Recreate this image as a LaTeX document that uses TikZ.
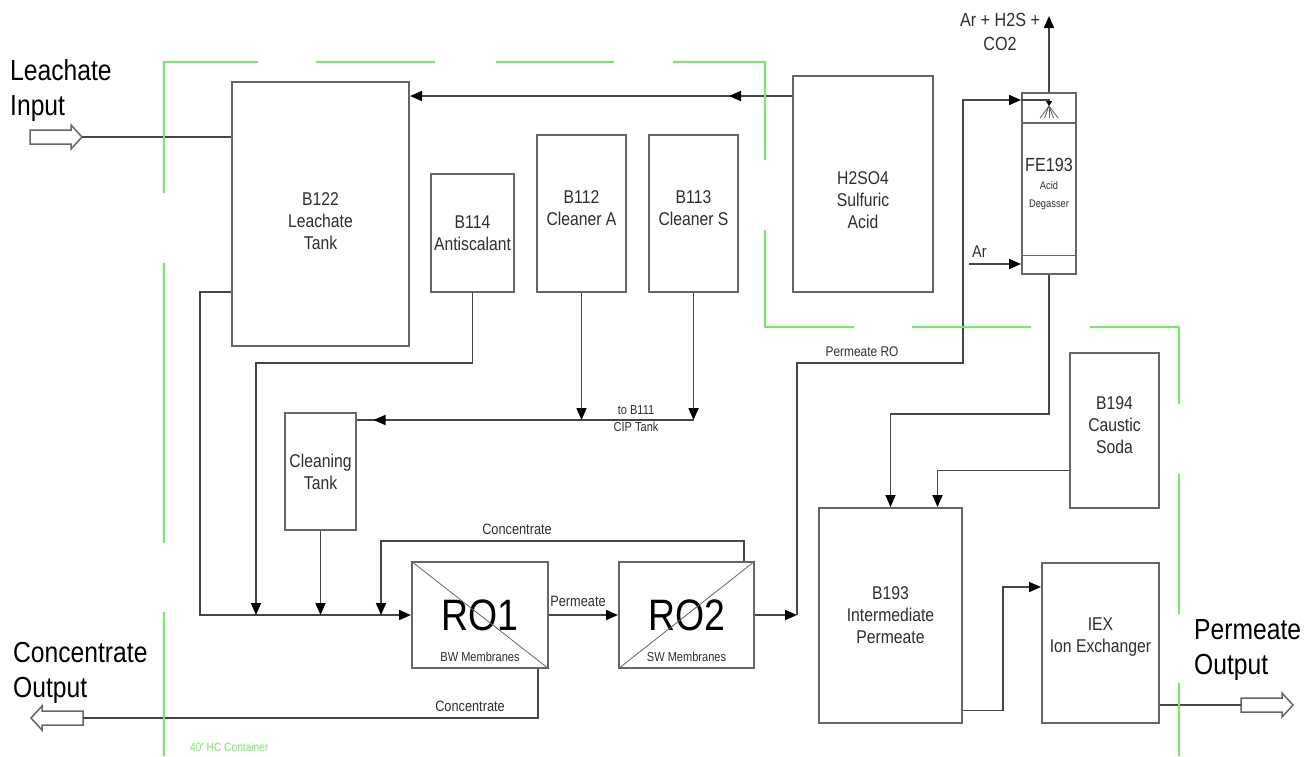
\documentclass[tikz,border=0pt]{standalone}
\usepackage{fontspec}
\setmainfont{Liberation Sans}[FakeStretch=0.85]
\usetikzlibrary{arrows.meta, positioning, calc, decorations.markings}
\definecolor{boxGray}{HTML}{666666}
\definecolor{pipeGray}{HTML}{454545}
\definecolor{txtGray}{HTML}{2E2E2E}
\definecolor{fenceGreen}{HTML}{6CF05C}

\begin{document}
\begin{tikzpicture}[x=1pt, y=-1pt,
    box/.style={draw=boxGray, line width=2pt, fill=white, inner sep=0pt, align=center,
      text=txtGray, font=\fontsize{18.5}{22}\selectfont},
    boxtxt/.style={inner sep=0pt, align=center, text=txtGray, font=\fontsize{18.5}{22}\selectfont},
    robox/.style={box, minimum height=106pt, text=black, font=\fontsize{44}{44}\selectfont},
    pipe/.style={draw=pipeGray, line width=1.7pt},
    flow/.style={pipe, -{Triangle[length=12pt, width=10pt, color=black]}},
    midtip/.style={postaction={decorate}, decoration={markings,
      mark=at position #1 with {\arrow{Triangle[length=12pt, width=10pt, color=black]}}}},
    lbl/.style={text=txtGray, inner sep=0pt, font=\fontsize{14}{17}\selectfont, align=center},
    biglbl/.style={text=black, inner sep=0pt, font=\fontsize{29}{35}\selectfont, align=left},
    fence/.style={draw=fenceGreen, line width=2pt},
    hollow/.style={draw=boxGray, line width=1.5pt, fill=white}]
  \useasboundingbox (0,0) rectangle (1312,756);
  % tanks
  \node[box, minimum width=177pt, minimum height=264pt] (tank) at (320.5,214) {};
  \node[boxtxt] (tankTxt) at (320.5,221) {B122\\Leachate\\Tank};
  \node[box, minimum width=83pt, minimum height=118pt] (anti) at (472.5,233) {B114\\Antiscalant};
  \node[box, minimum width=89pt, minimum height=157pt] (clA) at (581.5,213.5) {};
  \node[boxtxt] (clATxt) at (581.5,208) {B112\\Cleaner A};
  \node[box, minimum width=89pt, minimum height=157pt] (clS) at (693.5,213.5) {};
  \node[boxtxt] (clSTxt) at (693.5,208) {B113\\Cleaner S};
  \node[box, minimum width=140pt, minimum height=216pt] (acid) at (863,184) {};
  \node[boxtxt] (acidTxt) at (863,200) {H2SO4\\Sulfuric\\Acid};
  \node[box, minimum width=71pt, minimum height=117pt] (clean) at (320.5,471.5) {Cleaning\\Tank};
  \node[box, minimum width=54pt, minimum height=181pt] (deg) at (1049,183.5) {};
  \node[boxtxt, font=\fontsize{11}{18}\selectfont] (degTxt) at (1049,184)
    {{\fontsize{19}{20}\selectfont FE193}\\Acid\\Degasser};
  \node[box, minimum width=89pt, minimum height=155pt] (soda) at (1114.5,430.5) {};
  \node[boxtxt] (sodaTxt) at (1114.5,425) {B194\\Caustic\\Soda};
  \node[box, minimum width=143pt, minimum height=215pt] (b193) at (890.5,615.5) {B193\\Intermediate\\Permeate};
  \node[box, minimum width=117pt, minimum height=160pt] (iex) at (1100.5,643) {};
  \node[boxtxt] (iexTxt) at (1100.5,637) {IEX\\Ion Exchanger};
  % membranes
  \node[robox, minimum width=136pt] (ro1) at (480,615) {RO1};
  \node[robox, minimum width=135pt] (ro2) at (686.5,615) {RO2};
  \draw[boxGray, line width=0.8pt] (ro1.north west) -- (ro1.south east);
  \draw[boxGray, line width=0.8pt] (ro2.south west) -- (ro2.north east);
  \node[lbl, anchor=base, font=\fontsize{13}{15}\selectfont] (ro1Sub) at (480,661) {BW Membranes};
  \node[lbl, anchor=base, font=\fontsize{13}{15}\selectfont] (ro2Sub) at (686.5,661) {SW Membranes};
  % degasser inside
  \draw[boxGray, line width=2.4pt] ([yshift=-31pt]deg.north west) -- ([yshift=-31pt]deg.north east);
  \draw[boxGray, line width=1pt] ([yshift=20pt]deg.south west) -- ([yshift=20pt]deg.south east);
  \foreach \dx in {-9,-4.5,0,4.5,9}
    \draw[boxGray, line width=0.9pt] (1049,106) -- ++(\dx,12);
  % in and out arrows
  \foreach \x/\y/\d in {30/137/1, 1241/705/1, 83/718/-1}
    \draw[hollow] (\x,\y-7) -- ++(\d*41,0) -- ++(0,-5) -- (\x+\d*52,\y)
      -- (\x+\d*41,\y+12) -- ++(0,-5) -- (\x,\y+7) -- cycle;
  \coordinate (leachIn) at (82,137);
  \coordinate (permOut) at (1241,705);
  \coordinate (concOut) at (83,718);
  % feed lines
  \coordinate (acidOut) at ([yshift=-21pt]acid.north west);
  \coordinate (feedL) at (200,615);
  \coordinate (antiL) at (256,363);
  \coordinate (recyc) at (381,541);
  \draw[pipe] (leachIn) -- (leachIn -| tank.west);
  \draw[flow, midtip=63pt] (acidOut) -- (acidOut -| tank.east);
  \draw[flow] ([yshift=-211pt]tank.north west) -| (feedL) -- (ro1.west);
  \draw[flow] (anti.south) |- (antiL) -- (antiL |- feedL);
  \draw[flow] (clean.south) -- (clean.south |- feedL);
  \draw[flow] ([xshift=-11pt]ro2.north east) |- (recyc) -- (recyc |- feedL);
  \node[lbl, anchor=base, font=\fontsize{15}{17}\selectfont] (recLbl) at (517,534) {Concentrate};
  % CIP
  \coordinate (cip) at (693.5,420);
  \draw[flow] (clA.south) -- (clA.south |- cip);
  \draw[flow] (clS.south) -- (cip);
  \draw[pipe, midtip=320pt] (cip) -- (cip -| clean.east);
  \node[lbl, anchor=north, font=\fontsize{13}{17}\selectfont] (cipLbl) at (636,405.5) {to B111\\CIP Tank};
  % RO chain
  \draw[flow] (ro1) -- (ro2);
  \node[lbl, anchor=base, font=\fontsize{15}{17}\selectfont] (permLbl) at (578,606) {Permeate};
  \draw[pipe] ([xshift=-11pt]ro1.south east) |- (concOut);
  \node[lbl, anchor=base, font=\fontsize{15}{17}\selectfont] (concLbl) at (470,711) {Concentrate};
  \coordinate (permUp) at (797,363);
  \coordinate (permTop) at (963,100);
  \draw[flow] (ro2.east) -- (ro2.east -| permUp);
  \draw[flow] (ro2.east -| permUp) -- (permUp) -| (permTop) -- (permTop -| deg.west);
  \draw[pipe, -{Triangle[length=5pt, width=6pt, color=black]}] (permTop -| deg.west) -- (permTop -| deg.center) -- ++(0,6);
  \node[lbl, anchor=base] (roLbl) at (862,356) {Permeate RO};
  % degasser gas
  \coordinate (arIn) at (969,264);
  \coordinate (gasOut) at (1049,16);
  \draw[flow] (arIn) -- (arIn -| deg.west);
  \node[lbl, anchor=base west, font=\fontsize{17}{17}\selectfont] (arLbl) at (972,257) {Ar};
  \draw[flow] (deg.north) -- (gasOut);
  \node[lbl, anchor=north, font=\fontsize{19}{24}\selectfont] (gasLbl) at (1000,13) {Ar + H2S +\\CO2};
  % post treatment
  \draw[flow] (deg.south) -- ++(0,139) -| (b193.north);
  \draw[flow] ([yshift=-40pt]soda.west) -| ([xshift=47pt]b193.north);
  \draw[flow] ([yshift=-95pt]b193.east) -- ++(40,0) |- ([yshift=56pt]iex.west);
  \draw[pipe] ([yshift=-62pt]iex.east) -- (permOut);
  % outside labels
  \node[biglbl, anchor=north west] (inLbl) at (10,59) {Leachate\\Input};
  \node[biglbl, anchor=north west] (coLbl) at (13,642) {Concentrate\\Output};
  \node[biglbl, anchor=north west] (poLbl) at (1194,619) {Permeate\\Output};
  % container
  \draw[fence] (164,193) -- (164,62) -- (258,62);
  \draw[fence] (316,62) -- (435,62);
  \draw[fence] (496,62) -- (614,62);
  \draw[fence] (673,62) -- (765,62) -- (765,160);
  \draw[fence] (765,230) -- (765,327) -- (854,327);
  \draw[fence] (912,327) -- (1031,327);
  \draw[fence] (1090,327) -- (1179,327) -- (1179,404);
  \draw[fence] (1179,474) -- (1179,614);
  \draw[fence] (1179,683) -- (1179,756);
  \draw[fence] (164,263) -- (164,543);
  \draw[fence] (164,612) -- (164,756);
  \node[lbl, anchor=base west, text=fenceGreen, font=\fontsize{12}{12}\selectfont] (contLbl) at (190,751) {40\textquotesingle{} HC Container};
\end{tikzpicture}
\end{document}
